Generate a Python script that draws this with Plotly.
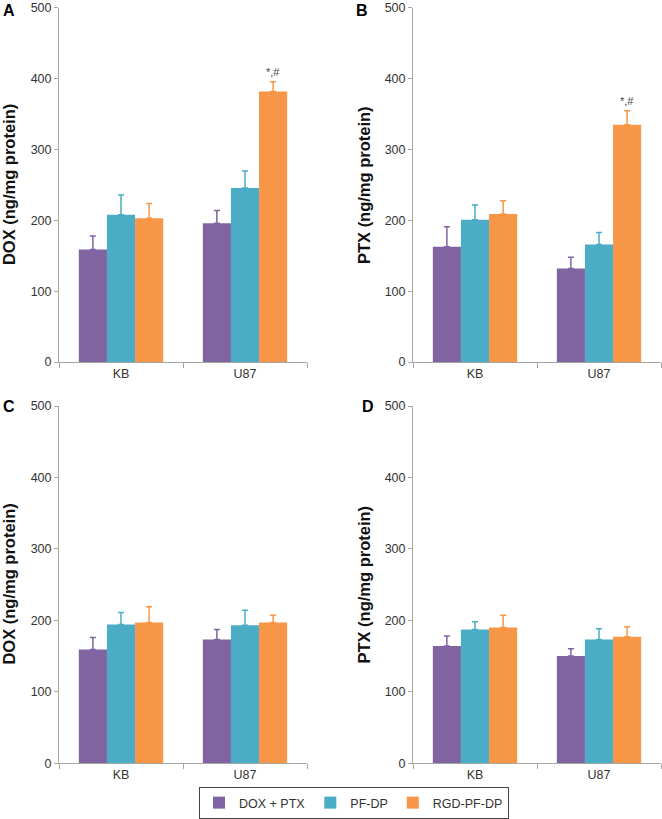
import plotly.graph_objects as go

categories = ["KB", "U87"]
series_names = ["DOX + PTX", "PF-DP", "RGD-PF-DP"]
colors = ["#8064A2", "#4BACC6", "#F79646"]

# Panel A: DOX
a_values = [[159, 196], [208, 246], [203, 382]]
a_errors = [[19, 18], [28, 24], [21, 14]]
# Panel B: PTX
b_values = [[163, 132], [201, 166], [209, 335]]
b_errors = [[28, 16], [21, 17], [19, 20]]
# Panel C: DOX
c_values = [[159, 173], [194, 193], [197, 197]]
c_errors = [[17, 14], [17, 21], [22, 10]]
# Panel D: PTX
d_values = [[164, 150], [187, 173], [190, 177]]
d_errors = [[14, 10], [11, 15], [17, 14]]

panels = [
    ("A", "DOX (ng/mg protein)", a_values, a_errors, True),
    ("B", "PTX (ng/mg protein)", b_values, b_errors, True),
    ("C", "DOX (ng/mg protein)", c_values, c_errors, False),
    ("D", "PTX (ng/mg protein)", d_values, d_errors, False),
]

W, H = 662, 819
FONT = "Liberation Sans, Arial, sans-serif"
BARGAP = 0.32

# pixel geometry of the plot areas (left, right, top, bottom)
boxes = [
    (59, 307, 8, 363),
    (413, 661, 8, 363),
    (59, 307, 407, 765),
    (413, 661, 407, 765),
]
title_x = [9, 364, 9, 364]
letter_pos = [(9, 11), (362, 11), (9, 407), (368, 407)]

fig = go.Figure()
layout = {}
annotations = []

for i, (letter, ytitle, vals, errs, star) in enumerate(panels):
    n = i + 1
    xa = "x" if n == 1 else f"x{n}"
    ya = "y" if n == 1 else f"y{n}"
    for s in range(3):
        fig.add_trace(go.Bar(
            x=categories, y=vals[s], name=series_names[s],
            marker=dict(color=colors[s], line=dict(width=0)),
            error_y=dict(type="data", symmetric=False, array=errs[s],
                         arrayminus=[0, 0], color=colors[s],
                         thickness=1.5, width=3),
            xaxis=xa, yaxis=ya, showlegend=(n == 1),
            legendgroup=series_names[s],
        ))
    l, r, t, b = boxes[i]
    xkey = "xaxis" if n == 1 else f"xaxis{n}"
    ykey = "yaxis" if n == 1 else f"yaxis{n}"
    layout[xkey] = dict(
        domain=[l / W, r / W], anchor=ya, type="category", automargin=False,
        range=[-0.5, 1.5], showline=True, linecolor="#a6a6a6", linewidth=1,
        ticks="outside", tickson="boundaries", ticklen=5, tickcolor="#a6a6a6",
        showgrid=False, ticklabeloverflow="allow",
        tickfont=dict(family=FONT, size=12.5, color="#333"),
    )
    layout[ykey] = dict(
        domain=[1 - b / H, 1 - t / H], anchor=xa, range=[0, 500], dtick=100,
        automargin=False, ticklabeloverflow="allow",
        showline=True, linecolor="#a6a6a6", linewidth=1, ticks="outside",
        ticklen=4, tickcolor="#a6a6a6", showgrid=False, zeroline=False,
        tickfont=dict(family=FONT, size=12.5, color="#333"),
    )
    annotations.append(dict(
        text="<b>" + ytitle + "</b>", textangle=-90, xref="paper", yref="paper",
        x=title_x[i] / W, y=1 - ((t + b) / 2) / H, xanchor="center",
        yanchor="middle", showarrow=False,
        font=dict(family=FONT, size=16.5, color="#111"),
    ))
    lx, ly = letter_pos[i]
    annotations.append(dict(
        text="<b>" + letter + "</b>", xref="paper", yref="paper",
        x=lx / W, y=1 - ly / H, xanchor="center", yanchor="middle",
        showarrow=False, font=dict(family=FONT, size=16, color="#000"),
    ))
    if star:
        bar_w = (1 - BARGAP) / 3
        annotations.append(dict(
            text="*,#", xref=xa, yref=ya,
            x=1 + bar_w, y=vals[2][1] + errs[2][1],
            xanchor="center", yanchor="bottom", yshift=2, showarrow=False,
            font=dict(family=FONT, size=11, color="#444"),
        ))

fig.update_layout(
    width=W, height=H, margin=dict(l=0, r=0, t=0, b=0),
    paper_bgcolor="white", plot_bgcolor="white",
    barmode="group", bargap=BARGAP, bargroupgap=0,
    annotations=annotations,
    legend=dict(orientation="h", x=354 / W, xanchor="center",
                y=1 - 805 / H, yanchor="middle",
                bordercolor="#444", borderwidth=1,
                font=dict(family=FONT, size=12.5, color="#333"),
                itemwidth=30, tracegroupgap=0),
    **layout,
)

fig.write_html("out.html",
               config={"displayModeBar": False},
               post_script="document.body.style.margin='0';"
                           "document.body.style.padding='0';")
